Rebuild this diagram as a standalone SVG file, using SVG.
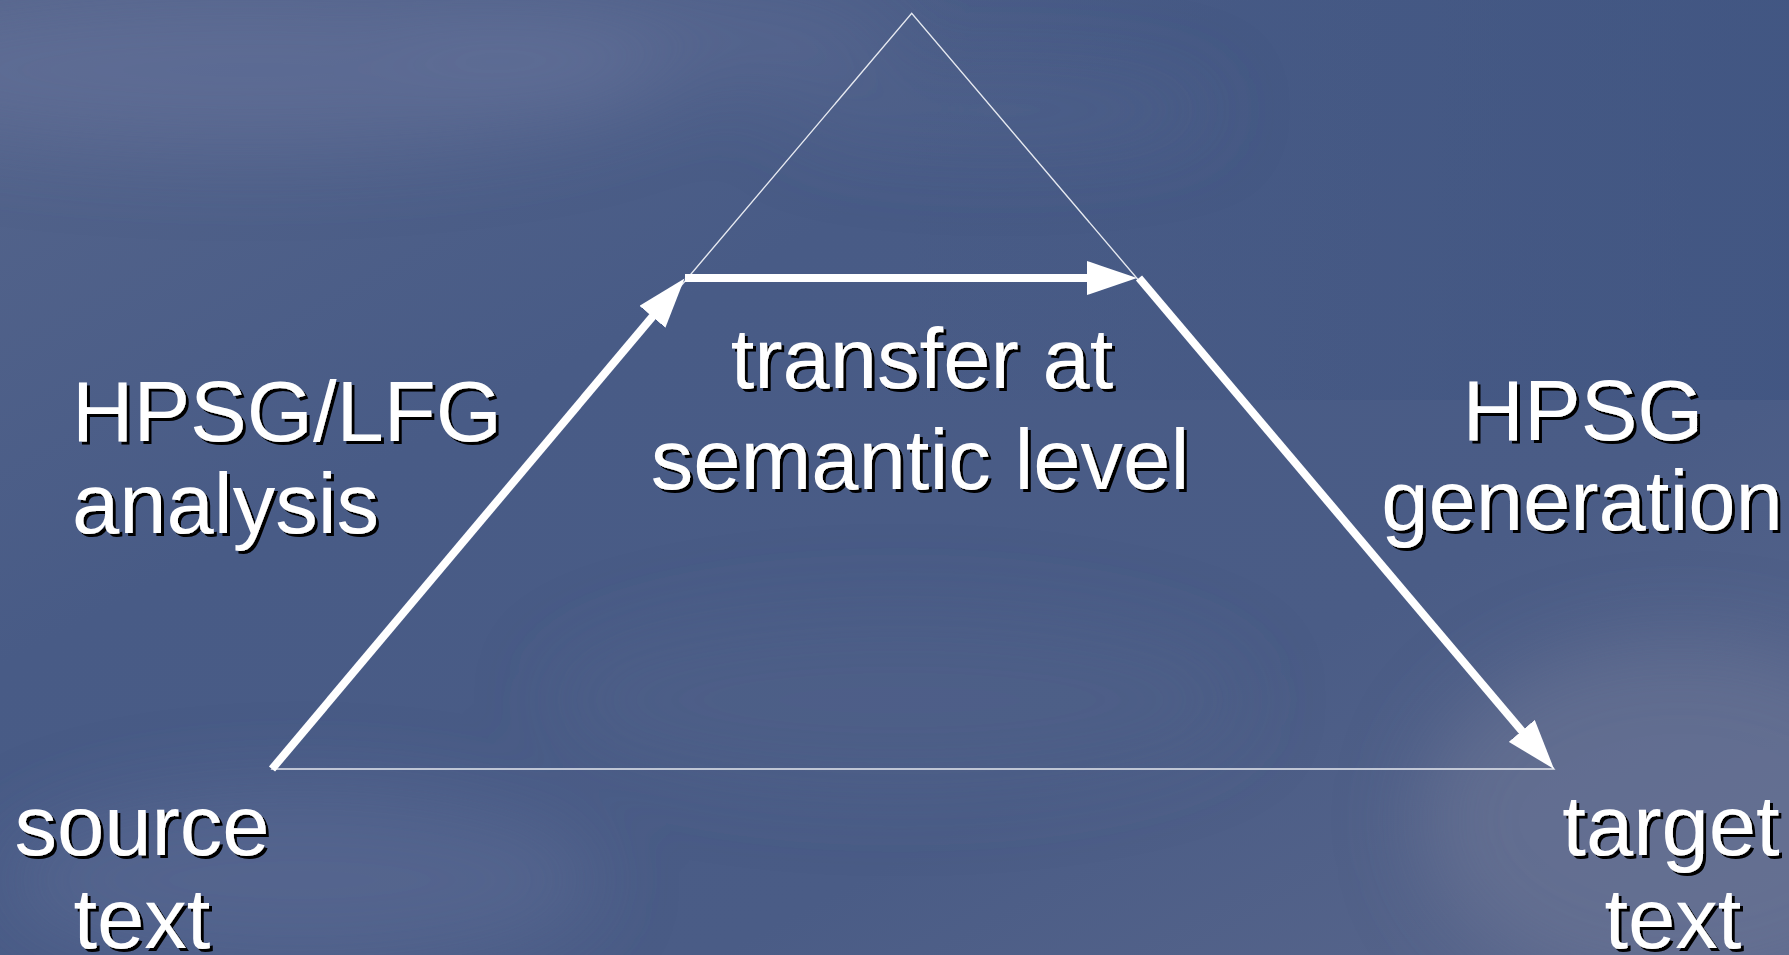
<svg xmlns="http://www.w3.org/2000/svg" width="1789" height="955" viewBox="0 0 1789 955">
  <defs>
    <linearGradient id="bg" x1="0" y1="0" x2="1" y2="1">
      <stop offset="0" stop-color="#55658c"/>
      <stop offset="0.35" stop-color="#485b86"/>
      <stop offset="0.7" stop-color="#4a5c86"/>
      <stop offset="1" stop-color="#5a678c"/>
    </linearGradient>
    <linearGradient id="topright" x1="0" y1="0" x2="1" y2="0">
      <stop offset="0" stop-color="#3c5280" stop-opacity="0"/>
      <stop offset="1" stop-color="#3c5280" stop-opacity="0.8"/>
    </linearGradient>
    <filter id="blur" x="-50%" y="-50%" width="200%" height="200%">
      <feGaussianBlur stdDeviation="40"/>
    </filter>
    <filter id="shadow" x="-10%" y="-10%" width="120%" height="130%">
      <feDropShadow dx="3" dy="3" stdDeviation="0.6" flood-color="#000" flood-opacity="1"/>
    </filter>
    <marker id="arrow" viewBox="0 0 50 34" refX="10" refY="17" markerWidth="50" markerHeight="34" markerUnits="userSpaceOnUse" orient="auto">
      <path d="M0,0 L50,17 L0,34 Z" fill="#fff"/>
    </marker>
    <style>
      .lbl { font-family: "Liberation Sans", Arial, sans-serif; font-size: 85px; fill: #fff; filter: url(#shadow); }
      .mid { text-anchor: middle; }
      .thin { fill: none; stroke: #e6e9f0; stroke-width: 1.4; }
      .thick { fill: none; stroke: #fff; stroke-width: 8; stroke-linecap: butt; }
    </style>
  </defs>

  <g id="background">
    <rect x="0" y="0" width="1789" height="955" fill="url(#bg)"/>
    <rect x="900" y="0" width="889" height="400" fill="url(#topright)" opacity="0.7"/>
    <g filter="url(#blur)">
      <ellipse cx="250" cy="70" rx="420" ry="80" fill="#66739a" opacity="0.55"/>
      <ellipse cx="650" cy="40" rx="250" ry="50" fill="#66739a" opacity="0.35"/>
      <ellipse cx="1000" cy="110" rx="220" ry="40" fill="#5d6b93" opacity="0.3"/>
      <ellipse cx="1680" cy="820" rx="260" ry="180" fill="#6e7898" opacity="0.55"/>
      <ellipse cx="300" cy="880" rx="300" ry="90" fill="#63709a" opacity="0.4"/>
      <ellipse cx="900" cy="700" rx="350" ry="90" fill="#55648c" opacity="0.3"/>
    </g>
  </g>

  <g id="connectors">
    <polygon id="triangle" class="thin" points="272,769 911.7,13.3 1554,769"/>
    <line id="analysis-arrow" class="thick" x1="272" y1="769" x2="658.8" y2="309.1" marker-end="url(#arrow)"/>
    <line id="transfer-arrow" class="thick" x1="685" y1="278" x2="1097" y2="278" marker-end="url(#arrow)"/>
    <line id="generation-arrow" class="thick" x1="1139" y1="278" x2="1528.2" y2="738.5" marker-end="url(#arrow)"/>
  </g>

  <g id="node-analysis">
    <text class="lbl" x="72" y="441">HPSG/LFG</text>
    <text class="lbl" x="72" y="533">analysis</text>
  </g>

  <g id="node-transfer">
    <text class="lbl mid" x="922" y="388">transfer at</text>
    <text class="lbl mid" x="920" y="489">semantic level</text>
  </g>

  <g id="node-generation">
    <text class="lbl mid" x="1583" y="440">HPSG</text>
    <text class="lbl mid" x="1582" y="530">generation</text>
  </g>

  <g id="node-source">
    <text class="lbl mid" x="142" y="855">source</text>
    <text class="lbl mid" x="142" y="948">text</text>
  </g>

  <g id="node-target">
    <text class="lbl mid" x="1671" y="855">target</text>
    <text class="lbl mid" x="1673" y="948">text</text>
  </g>
</svg>
